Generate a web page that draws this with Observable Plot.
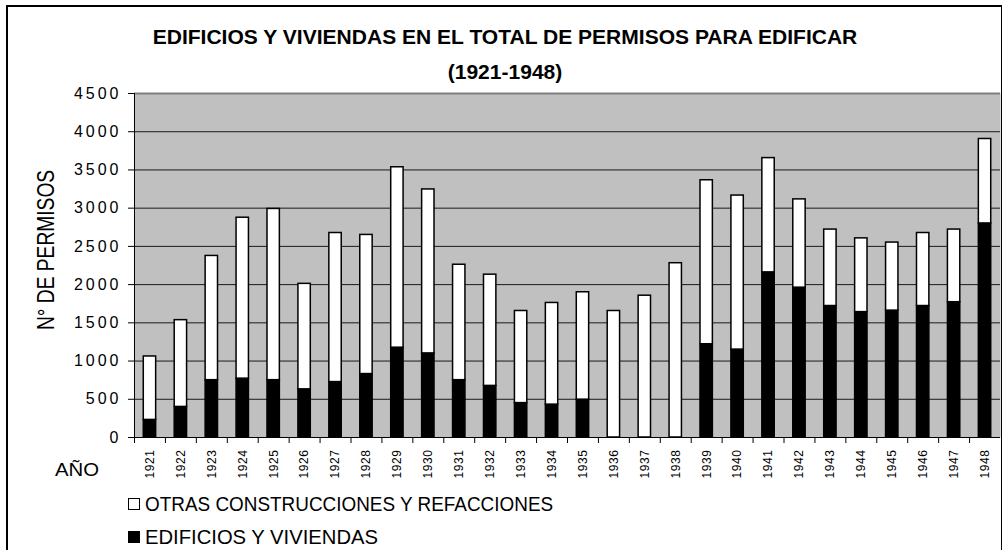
<!DOCTYPE html>
<html>
<head>
<meta charset="utf-8">
<script src="https://cdn.jsdelivr.net/npm/d3@7"></script>
<script src="https://cdn.jsdelivr.net/npm/@observablehq/plot@0.6"></script>
<style>
  html, body { margin: 0; padding: 0; background: #fff; overflow: hidden; }
  #wrap { position: relative; width: 1002px; height: 550px; font-family: "Liberation Sans", Arial, sans-serif; color: #000; }
  #chart { position: absolute; left: 0; top: 0; }
  .abs { position: absolute; white-space: nowrap; line-height: 1; display: inline-block; }
  #border { position: absolute; left: 6px; top: 5px; width: 993px; height: 600px; border: 2px solid #000; pointer-events: none; }
  .sq { position: absolute; width: 10px; height: 10px; border: 1px solid #000; }
  #chart g[aria-label="y-axis tick label"] text { letter-spacing: 3px; }
  #chart g[aria-label="x-axis tick label"] text { letter-spacing: 0.6px; }
</style>
</head>
<body>
<div id="wrap">
  <div id="chart"></div>
  <div class="abs" id="t1" style="font-weight:bold;font-size:21px">EDIFICIOS Y VIVIENDAS EN EL TOTAL DE PERMISOS PARA EDIFICAR</div>
  <div class="abs" id="t2" style="font-weight:bold;font-size:21px">(1921-1948)</div>
  <div class="abs" id="ytitle" style="font-size:24px">N° DE PERMISOS</div>
  <div class="abs" id="xname" style="font-size:18.5px">AÑO</div>
  <div class="sq" id="sq1" style="left:128px;top:498px;background:#fff"></div>
  <div class="abs" id="leg1" style="font-size:21px"></div>
  <div class="sq" id="sq2" style="left:128px;top:531px;background:#000"></div>
  <div class="abs" id="leg2" style="font-size:21px"></div>
  <div id="border"></div>
</div>
<script>
// ---- data ----
const years = [1921,1922,1923,1924,1925,1926,1927,1928,1929,1930,1931,1932,1933,1934,1935,1936,1937,1938,1939,1940,1941,1942,1943,1944,1945,1946,1947,1948];
const edificios = [230,400,750,770,750,630,725,830,1175,1100,750,675,450,430,495,0,0,0,1220,1150,2160,1960,1720,1640,1660,1720,1770,2800];
const otras = [830,1135,1625,2105,2240,1380,1950,1820,2360,2145,1510,1455,1205,1330,1405,1655,1855,2280,2145,2015,1495,1155,1000,965,890,955,950,1105];
const yTicks = [0,500,1000,1500,2000,2500,3000,3500,4000,4500];
const seriesNames = ["EDIFICIOS Y VIVIENDAS", "OTRAS CONSTRUCCIONES Y REFACCIONES"];
const seriesColors = ["#000000", "#ffffff"];

const rows = [];
years.forEach((yr, i) => rows.push({year: String(yr), serie: seriesNames[0], value: edificios[i]}));
years.forEach((yr, i) => rows.push({year: String(yr), serie: seriesNames[1], value: otras[i]}));
const yearStr = years.map(String);

// ---- layout ----
const W = 1002, H = 550, mL = 134, mR = 2, mT = 93, mB = 113;
const step = (W - mL - mR) / years.length;

const chart = Plot.plot({
  width: W, height: H,
  marginLeft: mL, marginRight: mR, marginTop: mT, marginBottom: mB,
  style: {fontFamily: '"Liberation Sans", Arial, sans-serif', background: "transparent", color: "#000"},
  x: {domain: yearStr, paddingInner: 0.6, paddingOuter: 0.3, round: false},
  y: {domain: [0, 4500]},
  color: {domain: seriesNames, range: seriesColors},
  marks: [
    Plot.frame({fill: "#c0c0c0", stroke: null}),
    Plot.ruleY(yTicks.filter(t => t > 0 && t < 4500), {stroke: "#1a1a1a", strokeWidth: 1}),
    Plot.ruleY([4500], {stroke: "#808080", strokeWidth: 2}),
    Plot.barY(rows, {x: "year", y: "value", z: "serie", fill: "serie", stroke: "#000", strokeWidth: 1.5}),
    Plot.ruleY([0], {stroke: "#000", strokeWidth: 1}),
    Plot.ruleX([yearStr[0]], {dx: -step / 2, stroke: "#000", strokeWidth: 1}),
    Plot.ruleX(yearStr, {x: d => d, dx: -step / 2, y1: 0, y2: 0, insetBottom: -6, stroke: "#000", strokeWidth: 1}),
    Plot.axisY({ticks: yTicks, tickSize: 6, tickPadding: 7, fontSize: 16, tickFormat: d => String(d), label: null}),
    Plot.axisX({tickSize: 0, tickPadding: 12, tickRotate: -90, fontSize: 12, label: null})
  ]
});
document.getElementById("chart").appendChild(chart);

// ---- text overlays ----
document.getElementById("leg1").textContent = seriesNames[1];
document.getElementById("leg2").textContent = seriesNames[0];

function placeCenter(id, cx, cy, targetW, rotate) {
  const el = document.getElementById(id);
  const s = targetW ? targetW / el.offsetWidth : 1;
  el.style.left = cx + "px";
  el.style.top = cy + "px";
  el.style.transform = `translate(-50%,-50%)${rotate ? " rotate(-90deg)" : ""} scaleX(${s})`;
  return s;
}
function placeLeft(id, x, cy, targetW) {
  const el = document.getElementById(id);
  const s = targetW / el.offsetWidth;
  el.style.left = x + "px";
  el.style.top = cy + "px";
  el.style.transformOrigin = "left center";
  el.style.transform = `translateY(-50%) scaleX(${s})`;
}
const ts = placeCenter("t1", 505, 36, 705, false);
const t2 = document.getElementById("t2");
t2.style.left = "505px"; t2.style.top = "71px";
t2.style.transform = `translate(-50%,-50%) scaleX(${ts})`;
placeCenter("ytitle", 45.5, 250, 160, true);
placeCenter("xname", 77, 470, 44, false);
placeLeft("leg1", 145, 503, 408);
placeLeft("leg2", 145, 536, 233);
</script>
</body>
</html>
